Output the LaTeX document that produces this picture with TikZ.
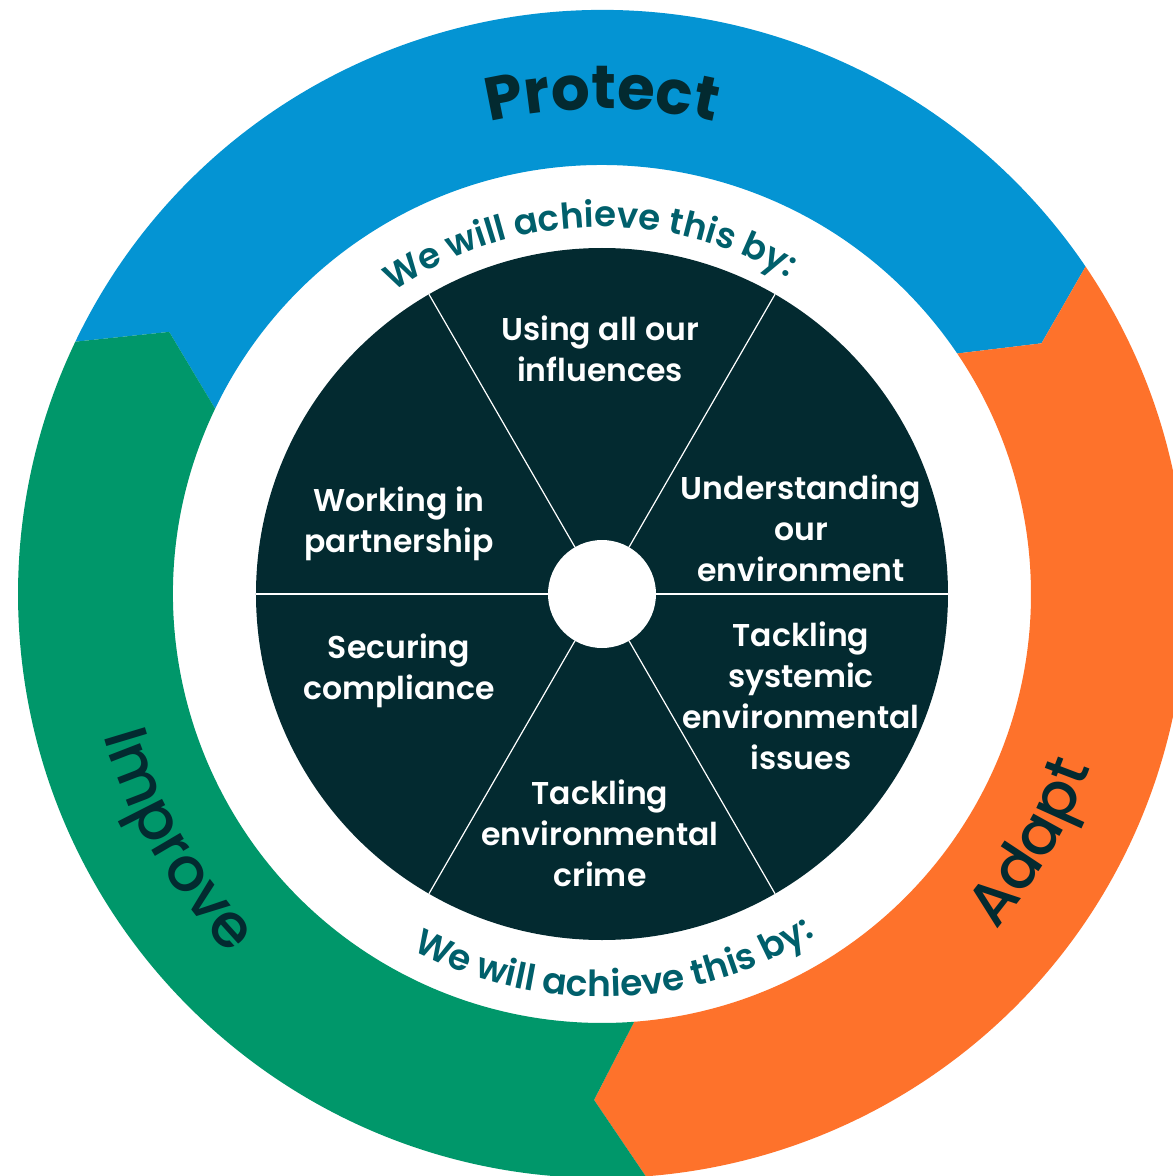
\documentclass[tikz,border=0pt]{standalone}
\usepackage{fontspec}
\setmainfont{Poppins}
\newfontfamily\psemi{Poppins SemiBold}
\newfontfamily\pbold{Poppins Bold}
\newfontfamily\pmed{Poppins Medium}
\usetikzlibrary{decorations.text}
\definecolor{pblue}{HTML}{0494D3}
\definecolor{porange}{HTML}{FE722B}
\definecolor{pgreen}{HTML}{00976A}
\definecolor{pdark}{HTML}{032A30}
\definecolor{pteal}{HTML}{005F6B}
\newcommand\ringseg[5]{%
  \fill[#1] (#2:584pt) arc[start angle=#2, end angle=#4, radius=584pt]
    -- (#5:506pt) -- (#4:429pt) arc[start angle=#4, end angle=#2, radius=429pt]
    -- (#3:506pt) -- cycle;}
\begin{document}
\begin{tikzpicture}[x=1pt,y=1pt,
  inner/.style={text=white, align=center, font=\psemi\fontsize{31.5pt}{41pt}\selectfont, inner sep=0pt},
  spoke/.style={draw=white, line width=1.2pt}]
\clip (-602,-582) rectangle (571,594);
\fill[white] (-602,-582) rectangle (571,594);
% ring segments: colour, tail, notch, head, tip
\ringseg{pblue}{154.4}{148.8}{34.1}{29.7}
\ringseg{porange}{34.1}{29.7}{-85.7}{-90.9}
\ringseg{pgreen}{-85.7}{-90.9}{-205.6}{-211.2}
% inner disk
\fill[pdark] (0,0) circle[radius=346pt];
\foreach \a in {0,60,...,300} \draw[spoke] (\a:54pt) -- (\a:346pt);
\fill[white] (0,0) circle[radius=54pt];
% inner labels
\node[inner] (infl) at (-2,245.5) {Using all our\\influences};
\node[inner] (under) at (199,66) {Understanding\\our\\environment};
\node[inner] (syst) at (199,-102) {Tackling\\systemic\\environmental\\issues};
\node[inner] (crime) at (-2,-239) {Tackling\\environmental\\crime};
\node[inner] (compl) at (-203,-77) {Securing\\compliance};
\node[inner] (partn) at (-203,70.5) {Working in\\partnership};
% curved texts
\path[decorate, decoration={text along path, text align=center, text color=pdark,
  text={|\pbold\fontsize{61pt}{61pt}\selectfont|Protect}}]
  (130:485pt) arc[start angle=130, end angle=50, radius=485pt];
\path[decorate, decoration={text along path, text align=center, text color=pdark,
  text={|\pmed\fontsize{61pt}{61pt}\selectfont|Improve}}]
  (170:518pt) arc[start angle=170, end angle=250, radius=518pt];
\path[decorate, decoration={text along path, text align=center, text color=pdark,
  text={|\pmed\fontsize{61pt}{61pt}\selectfont|Adapt}}]
  (-70:518pt) arc[start angle=-70, end angle=10, radius=518pt];
\path[decorate, decoration={text along path, text align=center, text color=pteal,
  text={|\psemi\fontsize{35.5pt}{35.5pt}\selectfont|We will achieve this by:}}]
  (142:367pt) arc[start angle=142, end angle=42, radius=367pt];
\path[decorate, decoration={text along path, text align=center, text color=pteal,
  text={|\psemi\fontsize{36pt}{36pt}\selectfont|We will achieve this by:}}]
  (-138:403pt) arc[start angle=-138, end angle=-38, radius=403pt];
\end{tikzpicture}
\end{document}
